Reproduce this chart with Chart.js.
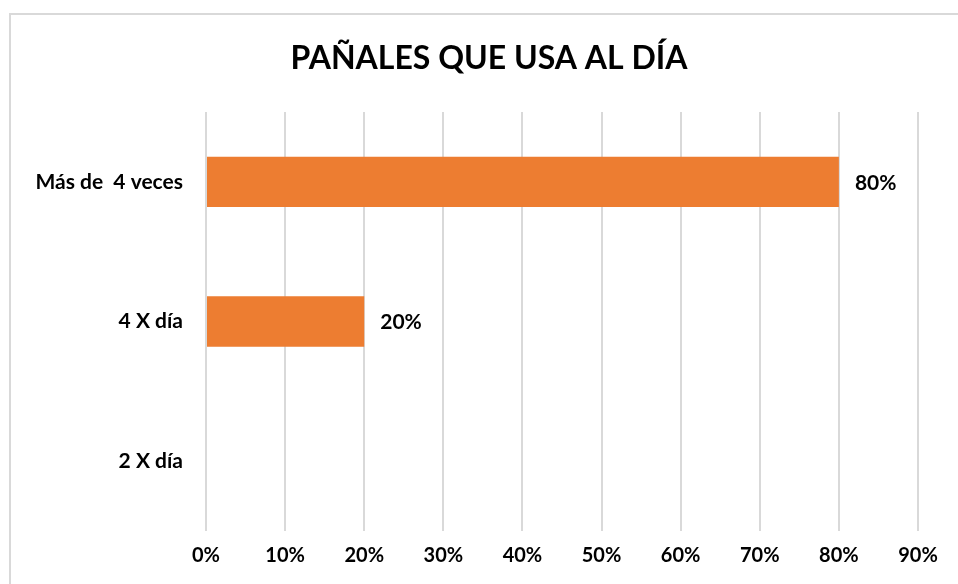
<!DOCTYPE html>
<html>
<head>
<meta charset="utf-8">
<script src="https://cdn.jsdelivr.net/npm/chart.js@4"></script>
<style>
  html, body { margin: 0; padding: 0; background: #ffffff; }
  #wrap { position: relative; width: 958px; height: 584px; overflow: hidden; }
  #frame { position: absolute; left: 9px; top: 13px; width: 1000px; height: 600px; border-left: 2px solid #d9d9d9; border-top: 2px solid #d9d9d9; box-sizing: border-box; }
  canvas { position: absolute; left: 0; top: 0; }
</style>
</head>
<body>
<div id="wrap">
  <div id="frame"></div>
  <canvas id="c" width="958" height="584"></canvas>
</div>
<script>
const titleText = 'PAÑALES QUE USA AL DÍA';
const categories = ['Más de  4 veces', '4 X día', '2 X día'];
const values = [80, 20, null];
const xMin = 0, xMax = 90, xStep = 10;

const FONT = 'Lato, "Open Sans", "Liberation Sans", sans-serif';

const dataLabels = {
  id: 'dataLabels',
  afterDatasetsDraw(chart) {
    const ctx = chart.ctx;
    const meta = chart.getDatasetMeta(0);
    ctx.save();
    ctx.font = 'bold 21px ' + FONT;
    ctx.fillStyle = '#000000';
    ctx.textAlign = 'left';
    ctx.textBaseline = 'middle';
    meta.data.forEach((el, i) => {
      const v = values[i];
      if (v === null || v === undefined) return;
      ctx.fillText(v + '%', el.x + 16, el.y + 1);
    });
    ctx.restore();
  }
};

const frameTitle = {
  id: 'frameTitle',
  afterDraw(chart) {
    const ctx = chart.ctx;
    ctx.save();
    ctx.font = 'bold 32px ' + FONT;
    ctx.fillStyle = '#000000';
    ctx.textAlign = 'center';
    ctx.textBaseline = 'middle';
    ctx.fillText(titleText, 489, 59);
    ctx.restore();
  }
};

new Chart(document.getElementById('c'), {
  type: 'bar',
  data: {
    labels: categories,
    datasets: [{
      data: values,
      backgroundColor: '#ED7D31',
      borderWidth: 0,
      barPercentage: 0.6,
      categoryPercentage: 0.6
    }]
  },
  options: {
    indexAxis: 'y',
    responsive: false,
    animation: false,
    layout: { padding: { left: 0, right: 40, top: 112, bottom: 0 } },
    plugins: {
      legend: { display: false },
      tooltip: { enabled: false },
      title: { display: false }
    },
    scales: {
      x: {
        min: xMin,
        max: xMax,
        ticks: {
          stepSize: xStep,
          color: '#000000',
          padding: 13,
          font: { family: FONT, size: 20, weight: 'bold' },
          callback: v => v + '%'
        },
        grid: { color: '#d9d9d9', lineWidth: 2, drawTicks: false },
        border: { display: false },
        afterFit(s) { s.height = 53; }
      },
      y: {
        ticks: {
          color: '#000000',
          padding: 23,
          font: { family: FONT, size: 21, weight: 'bold' }
        },
        grid: { display: false, drawTicks: false },
        border: { display: false },
        afterFit(s) { s.width = 206; }
      }
    }
  },
  plugins: [dataLabels, frameTitle]
});
</script>
</body>
</html>
